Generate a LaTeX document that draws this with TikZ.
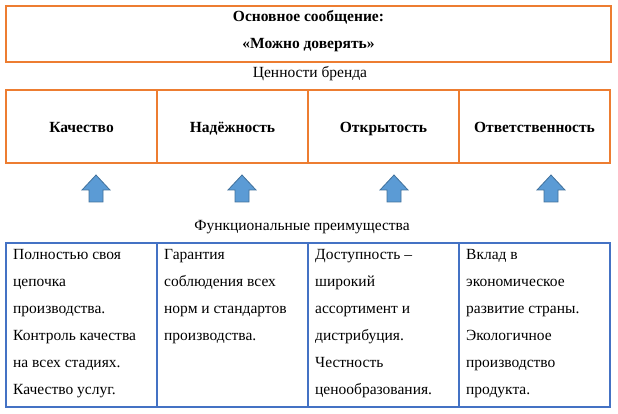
\documentclass[tikz,border=0pt]{standalone}
\usepackage{fontspec}
\setmainfont{Liberation Serif}
\usetikzlibrary{positioning}
\definecolor{brandorange}{HTML}{ED7D31}
\definecolor{tableblue}{HTML}{4472C4}
\definecolor{arrowfill}{HTML}{5B9BD5}
\definecolor{arrowdraw}{HTML}{41719C}

\begin{document}
\begin{tikzpicture}[x=1pt, y=-1pt,
    msgbox/.style={rectangle, draw=brandorange, line width=1.2pt, outer sep=0pt, minimum width=605pt, minimum height=56pt},
    valuebox/.style={rectangle, draw=brandorange, line width=1.2pt, outer sep=0pt, minimum width=151pt, minimum height=73pt, text height=12.5pt, text depth=0pt, font=\fontsize{15.5}{17}\selectfont\bfseries},
    benefitcell/.style={rectangle, draw=tableblue, line width=1.4pt, outer sep=0pt, minimum width=151pt, minimum height=164pt},
    benefittext/.style={anchor=north west, inner sep=0pt, align=left, font=\fontsize{15.5}{27}\selectfont},
    caption/.style={inner sep=0pt, font=\fontsize{15.5}{17}\selectfont},
    blockarrow/.style={fill=arrowfill, draw=arrowdraw, line width=0.8pt, line join=miter}]
    \useasboundingbox (0,0) rectangle (618,414);

    % key message
    \node[msgbox] (msg) at (308.5,34) {};
    \node[align=center, inner sep=0pt, font=\fontsize{15.5}{27}\selectfont\bfseries] (msgtext) at ([yshift=2.5pt]msg.center) {Основное сообщение:\\«Можно доверять»};
    \node[caption] (valcap) at (310,74) {Ценности бренда};

    % brand values
    \node[valuebox, anchor=north west] (v1) at (6,90) {Качество};
    \node[valuebox, right=0pt of v1] (v2) {Надёжность};
    \node[valuebox, right=0pt of v2] (v3) {Открытость};
    \node[valuebox, right=0pt of v3] (v4) {Ответственность};

    \foreach \ax in {96,242,394,551}
        \draw[blockarrow] (\ax,175) -- ++(14,15) -- ++(-7,0) -- ++(0,12) -- ++(-14,0) -- ++(0,-12) -- ++(-7,0) -- cycle;

    \node[caption] (bencap) at (302,227) {Функциональные преимущества};

    % functional benefits
    \node[benefitcell, anchor=north west] (f1) at (6,243) {};
    \node[benefitcell, right=0pt of f1] (f2) {};
    \node[benefitcell, right=0pt of f2] (f3) {};
    \node[benefitcell, right=0pt of f3] (f4) {};

    \node[benefittext] (t1) at ([shift={(7,6.5)}]f1.north west) {Полностью своя\\цепочка\\производства.\\Контроль качества\\на всех стадиях.\\Качество услуг.};
    \node[benefittext] (t2) at ([shift={(7,6.5)}]f2.north west) {Гарантия\\соблюдения всех\\норм и стандартов\\производства.};
    \node[benefittext] (t3) at ([shift={(7,6.5)}]f3.north west) {Доступность –\\широкий\\ассортимент и\\дистрибуция.\\Честность\\ценообразования.};
    \node[benefittext] (t4) at ([shift={(7,6.5)}]f4.north west) {Вклад в\\экономическое\\развитие страны.\\Экологичное\\производство\\продукта.};
\end{tikzpicture}
\end{document}
